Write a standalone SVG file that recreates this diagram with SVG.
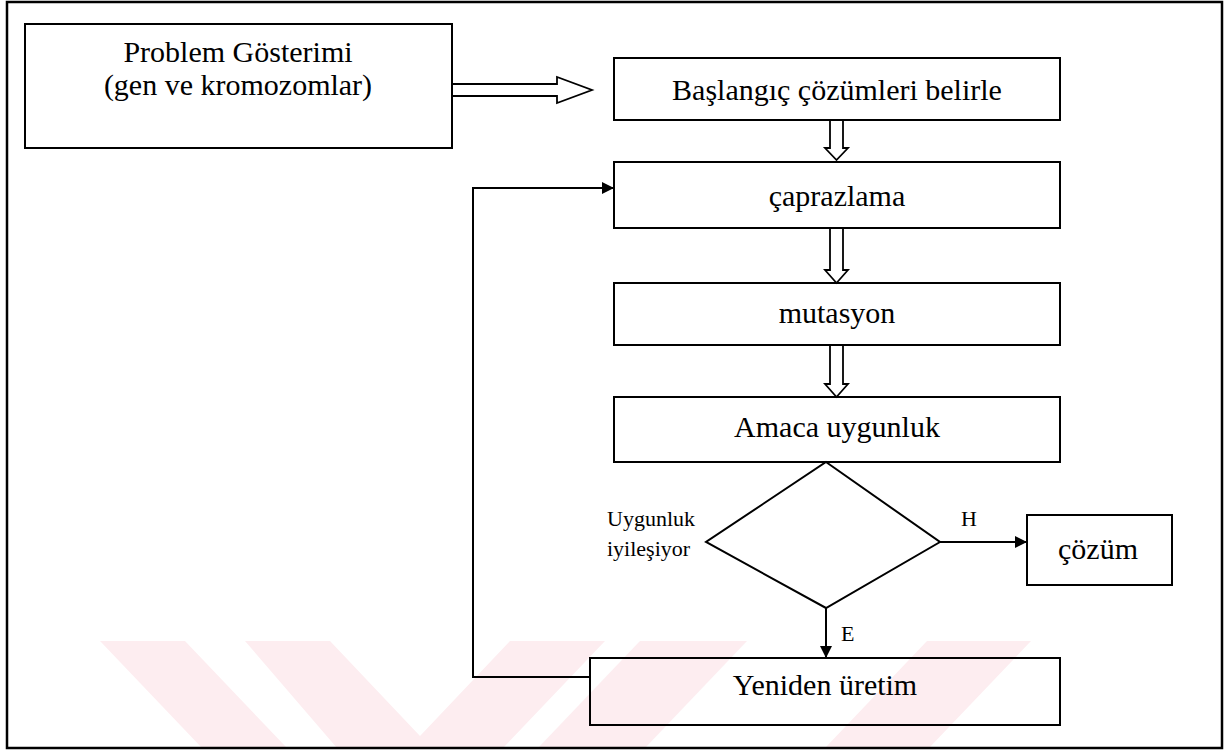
<svg xmlns="http://www.w3.org/2000/svg" width="1225" height="752" viewBox="0 0 1225 752">
  <style>
    .box { fill: none; stroke: #000; stroke-width: 2; }
    .hollow { fill: #fff; stroke: #000; stroke-width: 1.8; stroke-linejoin: miter; }
    .wire { fill: none; stroke: #000; stroke-width: 2; }
    .lbl { font-family: "Liberation Serif", "Times New Roman", serif; fill: #000; }
    .big { font-size: 30px; text-anchor: middle; }
    .small { font-size: 22px; }
    .wm { fill: #fdedf0; }
  </style>
  <defs>
    <marker id="head" viewBox="0 0 12 12" refX="12" refY="6" markerWidth="12" markerHeight="12" markerUnits="userSpaceOnUse" orient="auto">
      <path d="M0,0 L12,6 L0,12 Z" fill="#000"/>
    </marker>
  </defs>

  <rect x="0" y="0" width="1225" height="752" fill="#fff"/>

  <!-- faint background emblem along the bottom -->
  <g id="emblem">
    <polygon class="wm" points="100,641 185,641 287,748 202,748"/>
    <polygon class="wm" points="245,641 330,641 420,736 510,641 605,641 503,748 337,748"/>
    <polygon class="wm" points="640,641 747,641 645,748 538,748"/>
    <polygon class="wm" points="927,641 1031,641 929,748 825,748"/>
  </g>

  <!-- outer frame -->
  <rect x="7" y="2" width="1215" height="746" fill="none" stroke="#000" stroke-width="2.5"/>

  <g id="connectors">
    <!-- block arrow: representation -> initial solutions -->
    <polygon class="hollow" points="452,84 557,84 557,77 592,90 557,103 557,96 452,96"/>
    <!-- block arrows down the main column -->
    <polygon class="hollow" points="830,120 843,120 843,148 848,148 836.5,160 825,148 830,148"/>
    <polygon class="hollow" points="830,228 843,228 843,270 848,270 836.5,283 825,270 830,270"/>
    <polygon class="hollow" points="830,345 843,345 843,384 848,384 836.5,397 825,384 830,384"/>
    <!-- loop back from reproduction to crossover -->
    <polyline class="wire" points="590,677 473,677 473,188 614,188" marker-end="url(#head)"/>
    <!-- H branch -->
    <line class="wire" x1="940" y1="542" x2="1027" y2="542" marker-end="url(#head)"/>
    <!-- E branch -->
    <line class="wire" x1="826" y1="608" x2="826" y2="658" marker-end="url(#head)"/>
    <text class="lbl small" x="961" y="526">H</text>
    <text class="lbl small" x="841" y="641">E</text>
  </g>

  <g id="n-problem">
    <rect class="box" x="25" y="24" width="427" height="124"/>
    <text class="lbl big" x="238" y="62">Problem Gösterimi</text>
    <text class="lbl big" x="238" y="95">(gen ve kromozomlar)</text>
  </g>

  <g id="n-start">
    <rect class="box" x="614" y="58" width="446" height="62"/>
    <text class="lbl big" x="837" y="100">Başlangıç çözümleri belirle</text>
  </g>

  <g id="n-crossover">
    <rect class="box" x="614" y="162" width="446" height="66"/>
    <text class="lbl big" x="837" y="206">çaprazlama</text>
  </g>

  <g id="n-mutation">
    <rect class="box" x="614" y="283" width="446" height="62"/>
    <text class="lbl big" x="837" y="323">mutasyon</text>
  </g>

  <g id="n-fitness">
    <rect class="box" x="614" y="397" width="446" height="65"/>
    <text class="lbl big" x="837" y="437">Amaca uygunluk</text>
  </g>

  <g id="n-decision">
    <polygon class="box" points="826,462 940,542 826,608 706,542" stroke-width="2.2"/>
    <text class="lbl small" x="607" y="526">Uygunluk</text>
    <text class="lbl small" x="607" y="556">iyileşiyor</text>
  </g>

  <g id="n-solution">
    <rect class="box" x="1027" y="515" width="145" height="70"/>
    <text class="lbl big" x="1098" y="559">çözüm</text>
  </g>

  <g id="n-reproduction">
    <rect class="box" x="590" y="658" width="470" height="67"/>
    <text class="lbl big" x="825" y="695">Yeniden üretim</text>
  </g>
</svg>
